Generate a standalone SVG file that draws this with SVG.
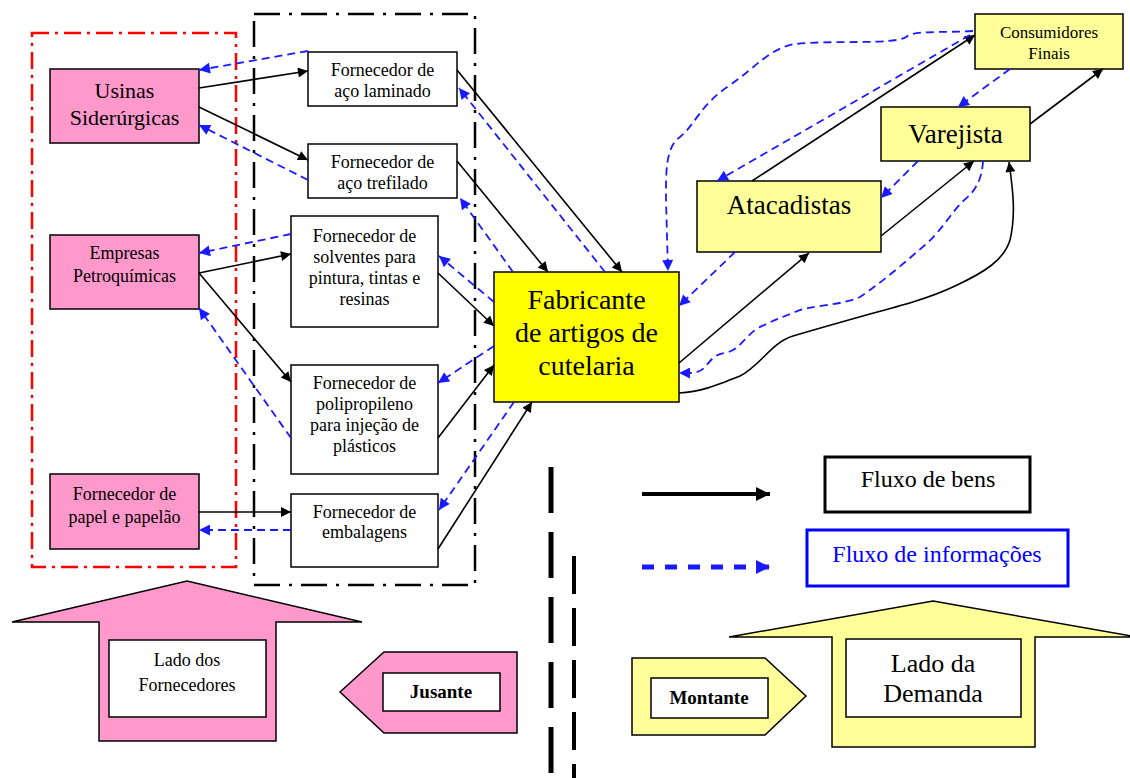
<svg xmlns="http://www.w3.org/2000/svg" width="1130" height="778" viewBox="0 0 1130 778">
<defs>
<style>
text{font-family:"Liberation Serif","Times New Roman",serif;fill:#000;text-anchor:middle}
.pink{fill:#FF99CC;stroke:#000;stroke-width:1.5}
.wht{fill:#fff;stroke:#000;stroke-width:1.5}
.yel{fill:#FFFF00;stroke:#000;stroke-width:1.5}
.ly{fill:#FFFF99;stroke:#000;stroke-width:1.5}
.g{fill:none;stroke:#000;stroke-width:1.6;marker-end:url(#ab)}
.i{fill:none;stroke:#1A1AFF;stroke-width:1.8;stroke-dasharray:8 5;marker-end:url(#ib)}
.s18{font-size:18px}
</style>
<marker id="ab" viewBox="0 0 10 10" refX="10" refY="5" markerWidth="13" markerHeight="10" markerUnits="userSpaceOnUse" orient="auto"><path d="M0,0 L10,5 L0,10 z" fill="#000"/></marker>
<marker id="ib" viewBox="0 0 10 10" refX="10" refY="5" markerWidth="13" markerHeight="11" markerUnits="userSpaceOnUse" orient="auto"><path d="M0,0 L10,5 L0,10 z" fill="#1A1AFF"/></marker>
<marker id="abL" viewBox="0 0 10 10" refX="10" refY="5" markerWidth="14" markerHeight="14" markerUnits="userSpaceOnUse" orient="auto"><path d="M0,0 L10,5 L0,10 z" fill="#000"/></marker>
<marker id="ibL" viewBox="0 0 10 10" refX="10" refY="5" markerWidth="14" markerHeight="14" markerUnits="userSpaceOnUse" orient="auto"><path d="M0,0 L10,5 L0,10 z" fill="#1A1AFF"/></marker>
</defs>
<rect width="1130" height="778" fill="#fff"/>

<g id="frames">
<rect x="32" y="33" width="204" height="534" fill="none" stroke="#FF0000" stroke-width="2.5" stroke-dasharray="17 6 3 6"/>
<rect x="254" y="14" width="221" height="571" fill="none" stroke="#000" stroke-width="2.5" stroke-dasharray="26 9 3 9"/>
</g>

<g id="usinas"><rect class="pink" x="50" y="69" width="149" height="74"/><text x="124.5" y="98" font-size="22">Usinas</text><text x="124.5" y="125" font-size="22">Siderúrgicas</text></g>
<g id="empresas"><rect class="pink" x="50" y="235" width="149" height="74"/><text class="s18" x="124.5" y="259">Empresas</text><text class="s18" x="124.5" y="282">Petroquímicas</text></g>
<g id="papel"><rect class="pink" x="50" y="474" width="149" height="75"/><text class="s18" x="124.5" y="500">Fornecedor de</text><text class="s18" x="124.5" y="523">papel e papelão</text></g>

<g id="laminado"><rect class="wht" x="308" y="52" width="149" height="54"/><text class="s18" x="382.5" y="76">Fornecedor de</text><text class="s18" x="382.5" y="97">aço laminado</text></g>
<g id="trefilado"><rect class="wht" x="308" y="144" width="149" height="54"/><text class="s18" x="382.5" y="168">Fornecedor de</text><text class="s18" x="382.5" y="189">aço trefilado</text></g>
<g id="solventes"><rect class="wht" x="291" y="216" width="147" height="111"/><text class="s18" x="364.5" y="242">Fornecedor de</text><text class="s18" x="364.5" y="263">solventes para</text><text class="s18" x="364.5" y="284">pintura, tintas e</text><text class="s18" x="364.5" y="305">resinas</text></g>
<g id="polipropileno"><rect class="wht" x="291" y="365" width="147" height="109"/><text class="s18" x="364.5" y="389">Fornecedor de</text><text class="s18" x="364.5" y="410">polipropileno</text><text class="s18" x="364.5" y="431">para injeção de</text><text class="s18" x="364.5" y="452">plásticos</text></g>
<g id="embalagens"><rect class="wht" x="291" y="494" width="147" height="73"/><text class="s18" x="364.5" y="518">Fornecedor de</text><text class="s18" x="364.5" y="538">embalagens</text></g>

<g id="fabricante"><rect class="yel" x="494" y="272" width="185" height="130"/><text x="586.5" y="309" font-size="28">Fabricante</text><text x="586.5" y="342" font-size="28">de artigos de</text><text x="586.5" y="375" font-size="28">cutelaria</text></g>
<g id="atacadistas"><rect class="ly" x="697" y="181" width="184" height="71"/><text x="789" y="214" font-size="27">Atacadistas</text></g>
<g id="varejista"><rect class="ly" x="881" y="107" width="149" height="54"/><text x="955.5" y="143" font-size="27">Varejista</text></g>
<g id="consumidores"><rect class="ly" x="975" y="14" width="148" height="55"/><text x="1049" y="38" font-size="17">Consumidores</text><text x="1049" y="59" font-size="17">Finais</text></g>

<g id="connectors">
<path class="g" d="M199,88 L308,71"/>
<path class="g" d="M199,107 L308,160"/>
<path class="g" d="M199,273 L291,254"/>
<path class="g" d="M199,273 L291,382"/>
<path class="g" d="M199,512 L291,512"/>
<path class="g" d="M457,70 L622,272"/>
<path class="g" d="M457,161 L548,272"/>
<path class="g" d="M438,273 L494,326"/>
<path class="g" d="M438,438 L494,365"/>
<path class="g" d="M438,549 L532,402"/>
<path class="g" d="M679,363 L809,253"/>
<path class="g" d="M881,236 L974,161"/>
<path class="g" d="M752,181 L975,35"/>
<path class="g" d="M1030,124 L1103,69"/>
<path class="g" d="M679,393 C700,392 715,386 740,376 C760,366 772,342 793,336 C820,328 845,321 870,314 C900,306 930,298 955,286 C985,272 1004,260 1010,240 C1016,215 1013,190 1009,162"/>

<path class="i" d="M308,51 L199,70"/>
<path class="i" d="M308,180 L199,125"/>
<path class="i" d="M605,272 L459,88"/>
<path class="i" d="M513,272 L460,198"/>
<path class="i" d="M494,302 L439,256"/>
<path class="i" d="M494,346 L438,383"/>
<path class="i" d="M514,402 L439,510"/>
<path class="i" d="M291,438 L199,308"/>
<path class="i" d="M291,234 L199,253"/>
<path class="i" d="M291,530 L199,530"/>
<path class="i" d="M973,31 C940,33 915,30 906,37 C895,45 830,40 795,44 C770,48 755,68 730,85 C700,105 695,125 680,137 C665,147 666,175 666,200 L668,271"/>
<path class="i" d="M970,35 L717,181"/>
<path class="i" d="M1010,69 L958,107"/>
<path class="i" d="M918,161 L881,198"/>
<path class="i" d="M983,161 C982,180 975,192 962,202 C950,215 940,232 925,245 C905,262 885,280 860,297 C840,306 810,305 795,312 C780,318 770,322 758,328 C745,336 740,350 725,353 C705,356 710,373 690,373 L679,373"/>
<path class="i" d="M735,252 L679,306"/>
</g>

<g id="legend">
<path d="M642,494 L770,494" fill="none" stroke="#000" stroke-width="4" marker-end="url(#abL)"/>
<path d="M642,567 L770,567" fill="none" stroke="#1A1AFF" stroke-width="5" stroke-dasharray="12 11" marker-end="url(#ibL)"/>
<rect x="825" y="457" width="205" height="55" fill="#fff" stroke="#000" stroke-width="3"/>
<text x="928" y="487" font-size="24">Fluxo de bens</text>
<rect x="807" y="530" width="261" height="56" fill="#fff" stroke="#0000FF" stroke-width="3"/>
<text x="937" y="562" font-size="24" style="fill:#0000FF">Fluxo de informações</text>
</g>

<g id="divider">
<line x1="551" y1="467" x2="551" y2="778" stroke="#000" stroke-width="5" stroke-dasharray="46 19"/>
<line x1="574" y1="556" x2="574" y2="778" stroke="#000" stroke-width="4" stroke-dasharray="38 14"/>
</g>

<g id="lado-fornecedores">
<polygon class="pink" points="187,581 362,622 276,622 276,741 99,741 99,622 12,622"/>
<rect class="wht" x="109" y="640" width="157" height="77"/>
<text class="s18" x="187" y="666">Lado dos</text><text class="s18" x="187" y="691">Fornecedores</text>
</g>
<g id="jusante">
<polygon class="pink" points="340,692 384,652 517,652 517,733 384,733"/>
<rect class="wht" x="383" y="673" width="117" height="38"/>
<text x="441" y="698" font-size="19" font-weight="bold">Jusante</text>
</g>
<g id="montante">
<polygon class="ly" points="632,658 765,658 806,696 765,735 632,735"/>
<rect class="wht" x="651" y="678" width="117" height="40"/>
<text x="709" y="704" font-size="19" font-weight="bold">Montante</text>
</g>
<g id="lado-demanda">
<polygon class="ly" points="933,601 1137,637 1035,637 1035,747 832,747 832,637 729,637"/>
<rect class="wht" x="846" y="639" width="175" height="78"/>
<text x="933" y="672" font-size="26">Lado da</text><text x="933" y="702" font-size="26">Demanda</text>
</g>
</svg>
